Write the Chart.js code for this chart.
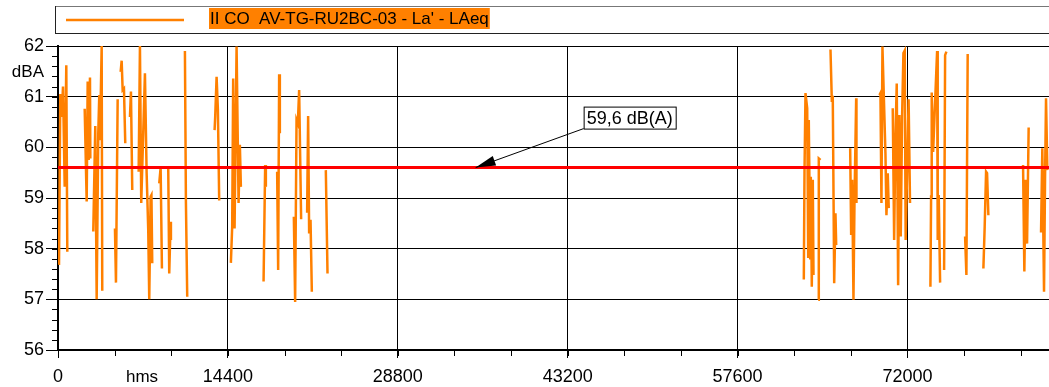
<!DOCTYPE html>
<html>
<head>
<meta charset="utf-8">
<script src="https://cdn.jsdelivr.net/npm/chart.js@4/dist/chart.umd.min.js"></script>
<style>
  html, body { margin: 0; padding: 0; background: #fff; }
  #wrap { width: 1049px; height: 387px; }
</style>
</head>
<body>
<div id="wrap"><canvas id="chart" width="1049" height="387"></canvas></div>
<script>
// tick labels
var xTickValues = [0, 14400, 28800, 43200, 57600, 72000];
var yTickValues = [56, 57, 58, 59, 60, 61, 62];

var seriesLabel = "II CO  AV-TG-RU2BC-03 - La' - LAeq";
var limitValue = 59.6;
var limitLabel = '59,6 dB(A)';
var limitArrowAt = 35400;

// time in s (null = no measurement), LAeq in dBA
var times = [
  85, 195, 313, 424, 568, 703, 788, null,
  2262, 2431, 2516, 2600, 2711, 2740, null,
  2990, 3160, 3278, 3414, 3498, 3558, 3702, 3752, null,
  4828, 4913, 5057, null,
  5311, 5396, 5480, 5591, 5701, null,
  6099, 6184, 6294, null,
  6836, 6946, 7056, 7369, 7513, 7649, 7734, 7852, 7920, 7988, null,
  8581, 8699, 8809, null,
  9343, 9428, 9546, 9572, null,
  10758, 10842, 10953, null,
  13273, 13324, 13443, 13553, 13663, null,
  14654, 14764, 14849, 14967, 15137, 15306, 15416, 15501, null,
  17424, 17560, 17619, null,
  18576, 18661, 18745, 18805, null,
  19991, 20101, 20219, 20329, 20440, 20609, null,
  21117, 21202, 21287, 21405, 21515, null,
  22701, 22845, null,
  63217, 63275, 63360, 63504, 63589, 63639, 63758, 63809, 63894, 63978, 64038, null,
  64436, 64487, 64631, null,
  65478, 65588, 65673, 65792, 65901, 65961, null,
  67147, 67231, 67316, 67426, 67511, 67655, 67680, null,
  69628, 69713, 69798, 69882, 70137, 70221, 70332, 70416, null,
  70755, 70874, 70984, 71094, 71213, 71322, 71433, 71551, 71661, 71771, 71850, 72100, 72220, null,
  73948, 74006, 74058, 74177, 74516, 74567, 74652, 74770, null,
  75109, 75194, 75304, null,
  76888, 76998, 77108, null,
  78438, 78548, 78666, 78751, 78861, null,
  81801, 81911, 82021, 82140, 82276, null,
  83325, 83435, 83579, 83664, 83748, 83859
];
var levels = [
  57.68, 61.05, 60.6, 61.2, 59.22, 61.62, 57.94, null,
  60.76, 58.93, 61.3, 59.75, 61.38, 59.78, null,
  58.34, 60.42, 57.0, 60.28, 61.03, 60.14, 62.0, 57.17, null,
  58.4, 57.33, 60.95, null,
  61.49, 61.71, 61.13, 61.16, 60.08, null,
  60.6, 61.1, 59.16, null,
  59.52, 62.0, 58.9, 61.46, 59.49, 58.37, 57.0, 59.03, 59.06, 57.71, null,
  59.29, 59.6, 57.61, null,
  59.62, 57.51, 58.53, 58.17, null,
  61.9, 58.93, 57.05, null,
  60.34, 60.6, 61.39, 60.74, 58.95, null,
  57.72, 58.43, 61.36, 58.4, 61.99, 58.9, 60.05, 59.22, null,
  57.35, 59.65, 59.22, null,
  59.52, 57.58, 61.44, 60.28, null,
  58.63, 56.95, 60.54, 60.47, 61.13, 58.58, null,
  58.71, 60.62, 58.3, 58.57, 57.15, null,
  59.55, 57.51, null,
  57.39, 59.5, 61.07, 60.77, 57.84, 60.54, 57.81, 59.42, 57.25, 59.36, 57.48, null,
  56.99, 59.78, 59.75, null,
  61.93, 60.95, 60.97, 57.32, 58.7, 58.07, null,
  59.98, 58.27, 59.36, 56.99, 58.9, 60.97, 58.9, null,
  61.03, 61.07, 58.9, 61.99, 59.88, 58.66, 59.49, 58.8, null,
  60.77, 58.17, 60.21, 61.26, 57.28, 60.64, 58.24, 60.64, 61.86, 61.91, 58.17, 60.95, 58.9, null,
  57.25, 59.03, 61.08, 59.91, 61.9, 58.17, 59.06, 57.33, null,
  57.58, 61.82, 61.89, null,
  58.24, 57.48, 61.84, null,
  57.61, 58.43, 59.52, 59.49, 58.66, null,
  59.65, 57.55, 59.36, 58.1, 60.39, null,
  58.32, 59.98, 57.15, 59.36, 60.97, 59.55
];

var ORANGE = '#ff8000';
var FONT = "'Liberation Sans', Arial, sans-serif";
Chart.defaults.font.family = FONT;
Chart.defaults.color = '#000';

var points = [];
for (var i = 0; i < levels.length; i++) {
  var t = times[i] !== null ? times[i] : times[i - 1];
  points.push({x: t, y: levels[i]});
}

// legend box, axis units, minor ticks and the limit label
var extras = {
  id: 'extras',
  afterDraw: function(chart) {
    var ctx = chart.ctx;
    var xs = chart.scales.x, ys = chart.scales.y;
    var area = chart.chartArea;
    ctx.save();

    // legend
    ctx.fillStyle = '#fff';
    ctx.fillRect(55, 6, 994, 28);
    ctx.strokeStyle = '#777';
    ctx.lineWidth = 1;
    ctx.strokeRect(55.5, 6.5, 1000, 27);
    ctx.strokeStyle = '#222';
    ctx.beginPath(); ctx.moveTo(55, 33.5); ctx.lineTo(1049, 33.5); ctx.stroke();
    ctx.beginPath(); ctx.moveTo(55.5, 6); ctx.lineTo(55.5, 34); ctx.stroke();
    ctx.strokeStyle = ORANGE;
    ctx.lineWidth = 2.5;
    ctx.beginPath(); ctx.moveTo(66, 20); ctx.lineTo(184, 20); ctx.stroke();
    ctx.font = '17px ' + FONT;
    var tw = ctx.measureText(seriesLabel).width;
    ctx.fillStyle = ORANGE;
    ctx.fillRect(209, 8, tw + 2, 21);
    ctx.fillStyle = '#000';
    ctx.textBaseline = 'middle';
    ctx.textAlign = 'left';
    ctx.fillText(seriesLabel, 210, 19);

    // axis units
    ctx.font = '17px ' + FONT;
    ctx.textAlign = 'right';
    ctx.fillText('dBA', 44, 72);
    ctx.textAlign = 'center';
    ctx.fillText('hms', 142, 377);

    // minor ticks
    ctx.strokeStyle = '#000';
    ctx.lineWidth = 1;
    for (var v = 56; v < 62; v += 0.2) {
      var py = Math.round(ys.getPixelForValue(v)) + 0.5;
      ctx.beginPath(); ctx.moveTo(area.left - 6, py); ctx.lineTo(area.left, py); ctx.stroke();
    }
    for (var s = 4800; s < xs.max; s += 4800) {
      var px = Math.round(xs.getPixelForValue(s)) + 0.5;
      ctx.beginPath(); ctx.moveTo(px, area.bottom); ctx.lineTo(px, area.bottom + 6); ctx.stroke();
    }

    // limit label with arrow
    var tipX = xs.getPixelForValue(limitArrowAt);
    var tipY = ys.getPixelForValue(limitValue);
    var bx = tipX + 108, by = tipY - 61;
    ctx.font = '18px ' + FONT;
    var lw = ctx.measureText(limitLabel).width + 6;
    ctx.fillStyle = '#fff';
    ctx.fillRect(bx, by, lw, 22);
    ctx.strokeStyle = '#000';
    ctx.strokeRect(bx + 0.5, by + 0.5, lw, 22);
    ctx.fillStyle = '#000';
    ctx.textAlign = 'left';
    ctx.fillText(limitLabel, bx + 3, by + 12);
    var sx = bx, sy = by + 22;
    var ang = Math.atan2(tipY - sy, tipX - sx);
    ctx.beginPath(); ctx.moveTo(sx, sy); ctx.lineTo(tipX, tipY); ctx.stroke();
    ctx.beginPath();
    ctx.moveTo(tipX, tipY);
    ctx.lineTo(tipX - 20 * Math.cos(ang) + 5 * Math.sin(ang), tipY - 20 * Math.sin(ang) - 5 * Math.cos(ang));
    ctx.lineTo(tipX - 20 * Math.cos(ang) - 5 * Math.sin(ang), tipY - 20 * Math.sin(ang) + 5 * Math.cos(ang));
    ctx.closePath();
    ctx.fill();
    ctx.restore();
  }
};

new Chart(document.getElementById('chart').getContext('2d'), {
  type: 'line',
  data: {
    datasets: [{
      label: limitLabel,
      data: [{x: 0, y: limitValue}, {x: 84000, y: limitValue}],
      borderColor: '#ff0000',
      borderWidth: 3,
      pointRadius: 0,
      order: 0
    }, {
      label: seriesLabel,
      data: points,
      borderColor: ORANGE,
      borderWidth: 2.5,
      pointRadius: 0,
      tension: 0,
      spanGaps: false,
      order: 1
    }]
  },
  options: {
    responsive: false,
    animation: false,
    events: [],
    layout: { padding: { top: 46, right: 0, left: 0, bottom: 0 } },
    plugins: { legend: { display: false }, tooltip: { enabled: false } },
    scales: {
      x: {
        type: 'linear',
        min: 0,
        max: 84000,
        afterBuildTicks: function(s) { s.ticks = xTickValues.map(function(v) { return {value: v}; }); },
        afterFit: function(s) { s.height = 37; },
        grid: { color: '#000', lineWidth: 1, tickLength: 8, tickColor: '#000' },
        border: { display: true, color: '#000', width: 2 },
        ticks: {
          font: { size: 18 }, color: '#000', maxRotation: 0, autoSkip: false, padding: 8,
          callback: function(v) { return String(v); }
        }
      },
      y: {
        min: 56,
        max: 62,
        afterBuildTicks: function(s) { s.ticks = yTickValues.map(function(v) { return {value: v}; }); },
        afterFit: function(s) { s.width = 58; },
        grid: { color: '#000', lineWidth: 1, tickLength: 12, tickColor: '#000' },
        border: { display: true, color: '#000', width: 2 },
        ticks: { font: { size: 18 }, color: '#000', padding: 2 }
      }
    }
  },
  plugins: [extras]
});
</script>
</body>
</html>
